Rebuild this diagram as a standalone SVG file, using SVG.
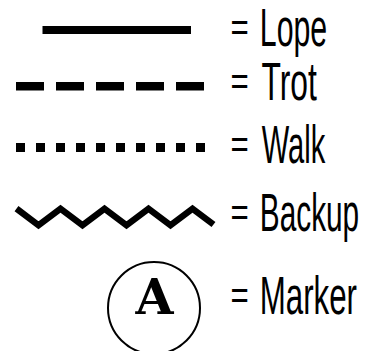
<svg xmlns="http://www.w3.org/2000/svg" width="373" height="351" viewBox="0 0 373 351">
  <style>
    .lbl { font-family: "Liberation Sans", Arial, sans-serif; font-size: 54.5px; fill: #000; }
    .eq { font-family: "Liberation Sans", Arial, sans-serif; font-size: 40px; fill: #000; }
    .ink { fill: #000; }
    .zig { fill: none; stroke: #000; stroke-width: 6.5; stroke-linejoin: miter; }
    .mark { fill: none; stroke: #000; stroke-width: 2; }
    .letter { font-family: "DejaVu Serif", "Liberation Serif", serif; font-weight: bold; font-size: 49px; fill: #000; }
  </style>
  <rect width="373" height="351" fill="#fff"/>
  <g id="connectors"/>
  <g id="lope">
    <rect class="ink" x="42.5" y="26" width="148.5" height="8"/>
    <text class="eq" transform="translate(230.4,41) scale(0.78,1)">=</text>
    <text class="lbl" transform="translate(259.8,46) scale(0.556,1)">Lope</text>
  </g>
  <g id="trot">
    <rect class="ink" x="16" y="82" width="28" height="8.5"/>
    <rect class="ink" x="56" y="82" width="28" height="8.5"/>
    <rect class="ink" x="96" y="82" width="28" height="8.5"/>
    <rect class="ink" x="136" y="82" width="28" height="8.5"/>
    <rect class="ink" x="176" y="82" width="28" height="8.5"/>
    <text class="eq" transform="translate(230.4,94.5) scale(0.78,1)">=</text>
    <text class="lbl" transform="translate(261.4,99.5) scale(0.584,1)">Trot</text>
  </g>
  <g id="walk">
    <rect class="ink" x="16" y="143" width="9" height="9"/>
    <rect class="ink" x="36" y="143" width="9" height="9"/>
    <rect class="ink" x="56" y="143" width="9" height="9"/>
    <rect class="ink" x="76" y="143" width="9" height="9"/>
    <rect class="ink" x="96" y="143" width="9" height="9"/>
    <rect class="ink" x="116" y="143" width="9" height="9"/>
    <rect class="ink" x="136" y="143" width="9" height="9"/>
    <rect class="ink" x="156" y="143" width="9" height="9"/>
    <rect class="ink" x="176" y="143" width="9" height="9"/>
    <rect class="ink" x="196" y="143" width="9" height="9"/>
    <text class="eq" transform="translate(230.4,158.3) scale(0.78,1)">=</text>
    <text class="lbl" transform="translate(261.7,163.3) scale(0.534,1)">Walk</text>
  </g>
  <g id="backup">
    <polyline class="zig" points="16.5,208.7 38.5,225.3 60.5,208.7 82.5,225.3 104.5,208.7 126.5,225.3 148.5,208.7 170.5,225.3 192.5,208.7 213.5,224.5"/>
    <text class="eq" transform="translate(230.4,226) scale(0.78,1)">=</text>
    <text class="lbl" transform="translate(259.8,231) scale(0.547,1)">Backup</text>
  </g>
  <g id="marker">
    <circle class="mark" cx="154" cy="308" r="46"/>
    <text class="letter" x="154.5" y="314" text-anchor="middle">A</text>
    <text class="eq" transform="translate(230.4,309) scale(0.78,1)">=</text>
    <text class="lbl" transform="translate(259.7,314) scale(0.574,1)">Marker</text>
  </g>
</svg>
